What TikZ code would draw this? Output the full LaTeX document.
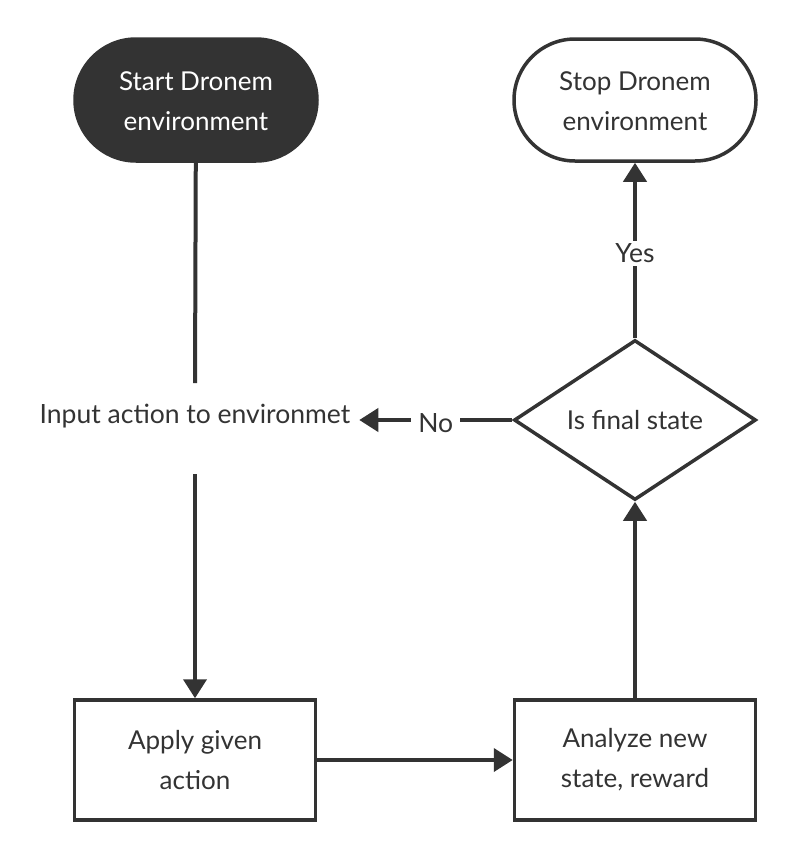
\documentclass[tikz,border=0pt]{standalone}
\usepackage{fontspec}
\setmainfont{Lato}
\usetikzlibrary{shapes.geometric,arrows.meta,positioning}
\definecolor{ink}{HTML}{333333}

\begin{document}
\begin{tikzpicture}[x=1pt,y=-1pt,
  line width=4pt, draw=ink, text=ink,
  every node/.style={font=\fontsize{26}{40}\selectfont, align=center},
  pill/.style={rectangle, rounded corners=61pt, minimum width=242pt, minimum height=122pt, line width=3.5pt},
  box/.style={rectangle, draw=ink, minimum width=241pt, minimum height=120pt, line width=3.5pt},
  arr/.style={-{Triangle[length=19pt,width=23pt]}},
  lbl/.style={fill=white, font=\fontsize{26.5}{32}\selectfont, inner sep=3pt, yshift=-3pt}]
\useasboundingbox (0,0) rectangle (795,860);
\node[pill, fill=ink, draw=ink, text=white] (start) at (196,100) {\rule{0pt}{22pt}Start Dronem\\environment};
\node[pill, fill=white, draw=ink] (stop) at (635,100) {\rule{0pt}{22pt}Stop Dronem\\environment};
\node[anchor=base, font=\fontsize{26.5}{32}\selectfont, text height=38pt, text depth=49pt, inner ysep=0pt, inner xsep=7pt] (input) at (195,423) {Input action to environmet};
\node[diamond, draw=ink, line width=3.5pt, minimum width=242pt, minimum height=160pt, inner sep=0pt, aspect=1.5] (final) at (635,420) {\raisebox{-4pt}{Is final state}};
\node[box] (apply) at (195,760) {Apply given\\action};
\node[box] (analyze) at (635,760) {Analyze new\\state, reward};
\draw (start) -- (input.north);
\draw[arr] (input.south) -- (apply);
\draw[arr] (apply) -- (analyze);
\draw[arr] (analyze) -- (final);
\draw[arr] (final) -- node[lbl] {Yes} (stop);
\draw[arr] (final) -- node[lbl, inner xsep=7pt] {No} (input.east |- final);
\end{tikzpicture}
\end{document}
